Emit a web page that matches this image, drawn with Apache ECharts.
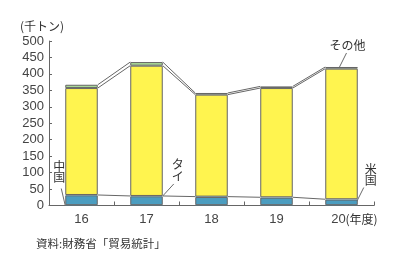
<!DOCTYPE html>
<html><head><meta charset="utf-8">
<script src="https://cdn.jsdelivr.net/npm/echarts@6/dist/echarts.min.js"></script>
<style>html,body{margin:0;padding:0;background:#fff}#c{width:400px;height:270px}</style>
</head><body><div id="c"></div>
<script>
const categories = ['16','17','18','19','20'];
const china  = [1, 1, 1, 1, 1];
const usa    = [30, 27, 25, 23, 17];
const thai   = [1, 1, 1, 1, 1];
const brazil = [325, 396, 310, 332, 397];
const other  = [10, 11, 5, 5, 5];
const yTicks = [0,50,100,150,200,250,300,350,400,450,500];

const C_BLUE = '#4b9dc0', C_YELLOW = '#fff44f', C_GREEN = '#a9d996', C_EDGE = '#666';
const JP = '"Noto Sans CJK JP", sans-serif';
const NUM = '"Liberation Sans", Arial, sans-serif';

// connector levels
const lvlLow = categories.map((c,i)=>china[i]+usa[i]+thai[i]);
const lvlMid = categories.map((c,i)=>lvlLow[i]+brazil[i]);
const lvlTop = categories.map((c,i)=>lvlMid[i]+other[i]);
const connData = [];
for (let i=0;i<categories.length-1;i++) connData.push([i, lvlLow[i], lvlMid[i], lvlTop[i], lvlLow[i+1], lvlMid[i+1], lvlTop[i+1]]);

function bar(name, data, color, bw){
  return {name, type:'bar', stack:'s', data, barWidth:'50%',
    itemStyle:{color, borderColor:C_EDGE, borderWidth:bw}, silent:true};
}

const option = {
  animation:false,
  grid:{left:49, right:26, top:41, bottom:64.5},
  xAxis:{type:'category', data:categories,
    axisLine:{lineStyle:{color:C_EDGE, width:1}},
    axisTick:{show:true, inside:true, length:4, lineStyle:{color:C_EDGE}},
    axisLabel:{fontFamily:NUM, fontSize:13, color:'#444', margin:7,
      formatter:(v)=> v==='20' ? '{s|20}' : v,
      rich:{s:{fontFamily:NUM, fontSize:13, color:'#444', padding:[0,6,0,0]}}}},
  yAxis:{type:'value', min:0, max:500, interval:50,
    axisLine:{show:true, lineStyle:{color:C_EDGE}},
    axisTick:{show:true, inside:true, length:3, lineStyle:{color:C_EDGE}},
    splitLine:{show:false},
    axisLabel:{fontFamily:NUM, fontSize:13, color:'#444', margin:5,
      formatter:v=> yTicks.includes(v) ? String(v) : ''}},
  series:[
    bar('中国', china, C_BLUE, 0),
    bar('米国', usa, C_BLUE, 1),
    bar('タイ', thai, C_BLUE, 0),
    bar('ブラジル', brazil, C_YELLOW, 1),
    bar('その他', other, C_GREEN, 1),
    {type:'custom', data:connData, silent:true, z:5,
      renderItem:function(params, api){
        const i = api.value(0);
        const half = api.size([1,0])[0]*0.25;
        const ch = [];
        for (let k=1;k<=3;k++){
          const a = api.coord([i, api.value(k)]);
          const b = api.coord([i+1, api.value(k+3)]);
          ch.push({type:'line', shape:{x1:a[0]+half, y1:a[1], x2:b[0]-half, y2:b[1]},
            style:{stroke:C_EDGE, lineWidth:1}});
        }
        return {type:'group', children:ch};
      }}
  ]
};
const chart = echarts.init(document.getElementById('c'));
chart.setOption(option);

function P(i, v){ return chart.convertToPixel({gridIndex:0}, [categories[i], v]); }
const bw = P(1,0)[0]-P(0,0)[0];
const half = bw*0.25;
const txt = (x,y,text,opt={}) => ({type:'text', x, y, style:Object.assign({text, fontFamily:JP, fontSize:12, fill:'#333', align:'center', verticalAlign:'middle'}, opt)});
const ln = (x1,y1,x2,y2) => ({type:'line', shape:{x1,y1,x2,y2}, style:{stroke:'#444', lineWidth:0.8}});

const g = [];
// unit label
g.push(txt(42, 26, '(千トン)', {fontSize:12}));
// year label suffix
const p20 = P(4,0);
g.push(txt(p20[0]+4, p20[1]+14, '(年度)', {align:'left', fontSize:12}));
// source
g.push(txt(36, 244, '資料:財務省「貿易統計」', {align:'left', fontSize:11.5}));
// その他
const pO = P(4, lvlTop[4]);
g.push(ln(pO[0]-2, pO[1], pO[0]+5, pO[1]-14));
g.push(txt(pO[0]+6, pO[1]-22, 'その他'));
// ブラジル vertical
const pB = P(4, 218);
g.push(txt(pB[0], pB[1], 'ブ\nラ\nジ\nル', {lineHeight:11, fontSize:12}));
// 中国
const pC = P(0, 0);
g.push(ln(pC[0]-half, pC[1], pC[0]-half-4, pC[1]-17));
g.push(txt(pC[0]-half-6, pC[1]-34, '中\n国', {lineHeight:11}));
// タイ
const pT = P(1, lvlLow[1]);
g.push(ln(pT[0]+half, pT[1], pT[0]+half+11, pT[1]-12));
g.push(txt(pT[0]+half+15, pT[1]-26, 'タ\nイ', {lineHeight:12}));
// 米国
const pU = P(4, 6);
g.push(ln(pU[0]+half-2, pU[1], pU[0]+half+6, pU[1]-16));
g.push(txt(pU[0]+half+13, pU[1]-29, '米\n国', {lineHeight:11}));

chart.setOption({graphic:g});
</script></body></html>
